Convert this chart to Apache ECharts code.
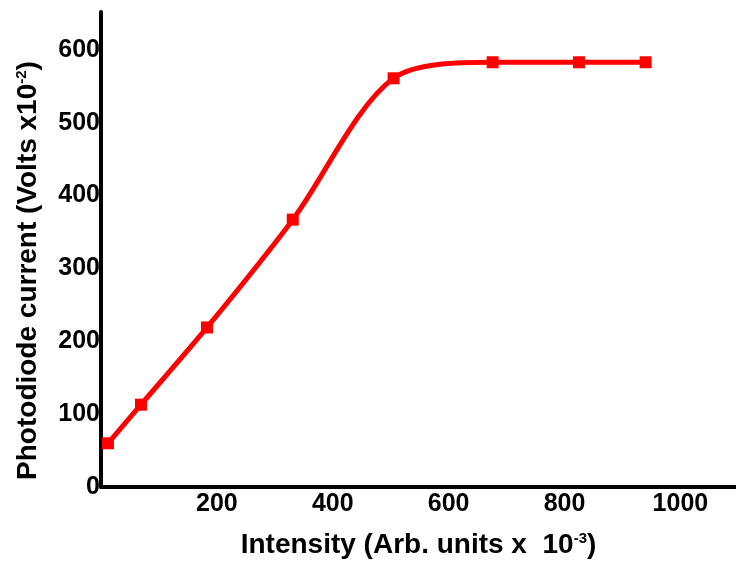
<!doctype html>
<html>
<head>
	<meta charset="UTF-8">
	<title>Photodiode current</title>
	<style>
		html, body { margin: 0; padding: 0; background: #fff; }
		#chart { width: 736px; height: 567px; }
	</style>
</head>
<body>
<div id="chart"></div>
<script src="https://cdn.jsdelivr.net/npm/echarts@6/dist/echarts.min.js"></script>
<script>
	// intensity (arb. units x 10^-3)
	var intensity = [12, 69, 183, 331, 505, 676, 825, 940];
	// photodiode current (volts x 10^-2)
	var current = [60, 113, 219, 367, 561, 583, 583, 583];
	var xTicks = [0, 200, 400, 600, 800, 1000];
	var yTicks = [0, 100, 200, 300, 400, 500, 600];

	var points = intensity.map(function (v, i) { return [v, current[i]]; });
	var font = '"Liberation Sans", Arial, sans-serif';

	var chart = echarts.init(document.getElementById('chart'));
	chart.setOption({
		animation: false,
		grid: { left: 101, right: 0, top: 12, bottom: 80 },
		xAxis: {
			type: 'value',
			min: xTicks[0],
			max: 1096,
			interval: 200,
			name: '{b|Intensity (Arb. units x  10}{s|-3}{b|)}',
			nameLocation: 'middle',
			nameGap: 44,
			nameTextStyle: {
				rich: {
					b: { fontFamily: font, fontWeight: 'bold', fontSize: 28, color: '#000' },
					s: { fontFamily: font, fontWeight: 'bold', fontSize: 15, color: '#000', padding: [0, 0, 14, 0] }
				}
			},
			axisLine: { lineStyle: { color: '#000', width: 4 } },
			axisTick: { show: false },
			splitLine: { show: false },
			axisLabel: {
				showMinLabel: false,
				showMaxLabel: false,
				margin: 5,
				color: '#000',
				fontFamily: font,
				fontWeight: 'bold',
				fontSize: 25,
				formatter: function (v) { return String(v); }
			}
		},
		yAxis: {
			type: 'value',
			min: yTicks[0],
			max: 652,
			interval: 100,
			name: '{b|Photodiode current (Volts x10}{s|-2}{b|)}',
			nameLocation: 'middle',
			nameRotate: 90,
			nameGap: 58,
			nameTextStyle: {
				padding: [0, 42, 0, 0],
				rich: {
					b: { fontFamily: font, fontWeight: 'bold', fontSize: 28, color: '#000' },
					s: { fontFamily: font, fontWeight: 'bold', fontSize: 15, color: '#000', padding: [0, 0, 14, 0] }
				}
			},
			axisLine: { show: true, lineStyle: { color: '#000', width: 4 } },
			axisTick: { show: false },
			splitLine: { show: false },
			axisLabel: {
				showMaxLabel: false,
				margin: 1,
				color: '#000',
				fontFamily: font,
				fontWeight: 'bold',
				fontSize: 25
			}
		},
		series: [{
			type: 'line',
			data: points,
			smooth: 0.3,
			symbol: 'rect',
			symbolSize: 12,
			lineStyle: { color: '#ff0000', width: 5 },
			itemStyle: { color: '#ff0000' }
		}]
	});
</script>
</body>
</html>
